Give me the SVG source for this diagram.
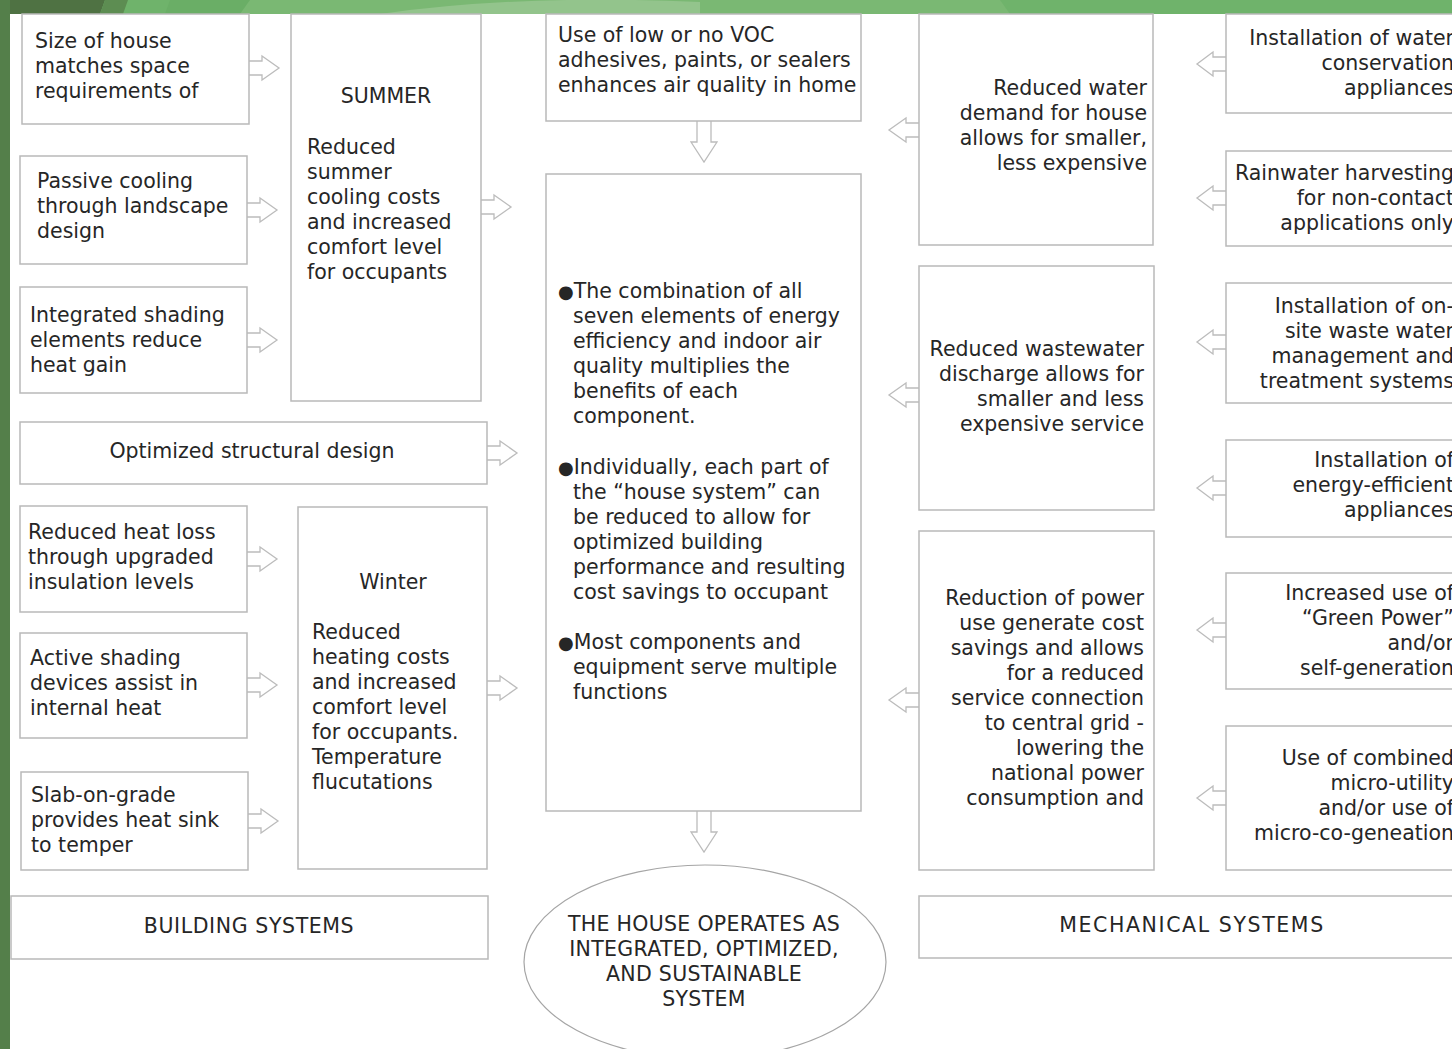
<svg xmlns="http://www.w3.org/2000/svg" width="1452" height="1049" viewBox="0 0 1452 1049">
<style>
.box{fill:#fff;stroke:#b9b9b9;stroke-width:1.5}
.arr{fill:#fff;stroke:#bcbcbc;stroke-width:1.3}
text{font-family:"DejaVu Sans",Verdana,sans-serif;font-size:20.5px;fill:#262626}
.c{text-anchor:middle}
.r{text-anchor:end}
.b{font-size:18px}
</style>
<rect width="1452" height="1049" fill="#fff"/>
<g id="background">
<rect x="0" y="0" width="1452" height="14" fill="#6fb36b"/>
<polygon points="0,0 105,0 100,14 0,14" fill="#4f7243"/>
<polygon points="105,0 128,0 123,14 100,14" fill="#5d8d52"/>
<polygon points="170,0 260,0 255,14 165,14" fill="#6aae66"/>
<polygon points="250,0 1000,0 1010,14 240,14" fill="#7ab873"/>
<path d="M380,14 Q520,-6 700,2 L700,14 Z" fill="#93c48c"/>
<rect x="0" y="0" width="10" height="1049" fill="#547f4a"/>
</g>
<g id="connectors">
<path class="arr" d="M249,61 H262 V56 L279,68 L262,80 V75 H249"/>
<path class="arr" d="M247,203 H260 V198 L277,210 L260,222 V217 H247"/>
<path class="arr" d="M247,333 H260 V328 L277,340 L260,352 V347 H247"/>
<path class="arr" d="M481,200 H494 V195 L511,207 L494,219 V214 H481"/>
<path class="arr" d="M487,446 H500 V441 L517,453 L500,465 V460 H487"/>
<path class="arr" d="M247,552 H260 V547 L277,559 L260,571 V566 H247"/>
<path class="arr" d="M247,678 H260 V673 L277,685 L260,697 V692 H247"/>
<path class="arr" d="M248,814 H261 V809 L278,821 L261,833 V828 H248"/>
<path class="arr" d="M487,681 H500 V676 L517,688 L500,700 V695 H487"/>
<path class="arr" d="M697,121 V142 H691 L704,162 L717,142 H711 V121"/>
<path class="arr" d="M697,811 V832 H691 L704,852 L717,832 H711 V811"/>
<path class="arr" d="M919,123 H906 V118 L889,130 L906,142 V137 H919"/>
<path class="arr" d="M919,388 H906 V383 L889,395 L906,407 V402 H919"/>
<path class="arr" d="M919,693 H906 V688 L889,700 L906,712 V707 H919"/>
<path class="arr" d="M1226,57 H1213 V52 L1197,64 L1213,76 V71 H1226"/>
<path class="arr" d="M1226,191 H1213 V186 L1197,198 L1213,210 V205 H1226"/>
<path class="arr" d="M1226,335 H1213 V330 L1197,342 L1213,354 V349 H1226"/>
<path class="arr" d="M1226,481 H1213 V476 L1197,488 L1213,500 V495 H1226"/>
<path class="arr" d="M1226,623 H1213 V618 L1197,630 L1213,642 V637 H1226"/>
<path class="arr" d="M1226,791 H1213 V786 L1197,798 L1213,810 V805 H1226"/>
</g>
<g id="n-size"><rect class="box" x="22" y="14" width="227" height="110"/>
<text x="35" y="48">Size of house</text><text x="35" y="73">matches space</text><text x="35" y="98">requirements of</text></g>
<g id="n-passive"><rect class="box" x="20" y="156" width="227" height="108"/>
<text x="37" y="188">Passive cooling</text><text x="37" y="213">through landscape</text><text x="37" y="238">design</text></g>
<g id="n-integrated"><rect class="box" x="20" y="287" width="227" height="106"/>
<text x="30" y="322">Integrated shading</text><text x="30" y="347">elements reduce</text><text x="30" y="372">heat gain</text></g>
<g id="n-summer"><rect class="box" x="291" y="14" width="190" height="387"/>
<text class="c" x="386" y="103">SUMMER</text>
<text x="307" y="154">Reduced</text><text x="307" y="179">summer</text><text x="307" y="204">cooling costs</text><text x="307" y="229">and increased</text><text x="307" y="254">comfort level</text><text x="307" y="279">for occupants</text></g>
<g id="n-structural"><rect class="box" x="20" y="422" width="467" height="62"/>
<text class="c" x="252" y="458">Optimized structural design</text></g>
<g id="n-heatloss"><rect class="box" x="20" y="506" width="227" height="106"/>
<text x="28" y="539">Reduced heat loss</text><text x="28" y="564">through upgraded</text><text x="28" y="589">insulation levels</text></g>
<g id="n-active"><rect class="box" x="20" y="633" width="227" height="105"/>
<text x="30" y="665">Active shading</text><text x="30" y="690">devices assist in</text><text x="30" y="715">internal heat</text></g>
<g id="n-slab"><rect class="box" x="21" y="772" width="227" height="98"/>
<text x="31" y="802">Slab-on-grade</text><text x="31" y="827">provides heat sink</text><text x="31" y="852">to temper</text></g>
<g id="n-winter"><rect class="box" x="298" y="507" width="189" height="362"/>
<text class="c" x="393" y="589">Winter</text>
<text x="312" y="639">Reduced</text><text x="312" y="664">heating costs</text><text x="312" y="689">and increased</text><text x="312" y="714">comfort level</text><text x="312" y="739">for occupants.</text><text x="312" y="764">Temperature</text><text x="312" y="789">flucutations</text></g>
<g id="n-building"><rect class="box" x="11" y="896" width="477" height="63"/>
<text class="c" x="249" y="933" letter-spacing="0.6">BUILDING SYSTEMS</text></g>
<g id="n-voc"><rect class="box" x="546" y="14" width="315" height="107"/>
<text x="558" y="42">Use of low or no VOC</text><text x="558" y="67">adhesives, paints, or sealers</text><text x="558" y="92">enhances air quality in home</text></g>
<g id="n-center"><rect class="box" x="546" y="174" width="315" height="637"/>
<text x="558" y="298"><tspan class="b">●</tspan>The combination of all</text><text x="573" y="323">seven elements of energy</text><text x="573" y="348">efficiency and indoor air</text><text x="573" y="373">quality multiplies the</text><text x="573" y="398">benefits of each</text><text x="573" y="423">component.</text>
<text x="558" y="474"><tspan class="b">●</tspan>Individually, each part of</text><text x="573" y="499">the “house system” can</text><text x="573" y="524">be reduced to allow for</text><text x="573" y="549">optimized building</text><text x="573" y="574">performance and resulting</text><text x="573" y="599">cost savings to occupant</text>
<text x="558" y="649"><tspan class="b">●</tspan>Most components and</text><text x="573" y="674">equipment serve multiple</text><text x="573" y="699">functions</text></g>
<g id="n-result"><ellipse cx="705" cy="962" rx="181" ry="97" fill="#fff" stroke="#a5a5a5" stroke-width="1.2"/>
<g letter-spacing="0.3"><text class="c" x="704" y="931">THE HOUSE OPERATES AS</text><text class="c" x="704" y="956">INTEGRATED, OPTIMIZED,</text><text class="c" x="704" y="981">AND SUSTAINABLE</text><text class="c" x="704" y="1006">SYSTEM</text></g></g>
<g id="n-water"><rect class="box" x="919" y="14" width="234" height="231"/>
<text class="r" x="1147" y="95">Reduced water</text><text class="r" x="1147" y="120">demand for house</text><text class="r" x="1147" y="145">allows for smaller,</text><text class="r" x="1147" y="170">less expensive</text></g>
<g id="n-wastewater"><rect class="box" x="919" y="266" width="235" height="244"/>
<text class="r" x="1144" y="356">Reduced wastewater</text><text class="r" x="1144" y="381">discharge allows for</text><text class="r" x="1144" y="406">smaller and less</text><text class="r" x="1144" y="431">expensive service</text></g>
<g id="n-power"><rect class="box" x="919" y="531" width="235" height="339"/>
<text class="r" x="1144" y="605">Reduction of power</text><text class="r" x="1144" y="630">use generate cost</text><text class="r" x="1144" y="655">savings and allows</text><text class="r" x="1144" y="680">for a reduced</text><text class="r" x="1144" y="705">service connection</text><text class="r" x="1144" y="730">to central grid -</text><text class="r" x="1144" y="755">lowering the</text><text class="r" x="1144" y="780">national power</text><text class="r" x="1144" y="805">consumption and</text></g>
<g id="n-mechanical"><rect class="box" x="919" y="896" width="540" height="62"/>
<text class="c" x="1192" y="932" letter-spacing="1.6">MECHANICAL SYSTEMS</text></g>
<g id="n-waterapp"><rect class="box" x="1226" y="14" width="240" height="99"/>
<text class="r" x="1454" y="45">Installation of water</text><text class="r" x="1454" y="70">conservation</text><text class="r" x="1454" y="95">appliances</text></g>
<g id="n-rain"><rect class="box" x="1226" y="151" width="240" height="95"/>
<text class="r" x="1454" y="180">Rainwater harvesting</text><text class="r" x="1454" y="205">for non-contact</text><text class="r" x="1454" y="230">applications only</text></g>
<g id="n-onsite"><rect class="box" x="1226" y="283" width="240" height="120"/>
<text class="r" x="1454" y="313">Installation of on-</text><text class="r" x="1454" y="338">site waste water</text><text class="r" x="1454" y="363">management and</text><text class="r" x="1454" y="388">treatment systems</text></g>
<g id="n-energy"><rect class="box" x="1226" y="440" width="240" height="97"/>
<text class="r" x="1454" y="467">Installation of</text><text class="r" x="1454" y="492">energy-efficient</text><text class="r" x="1454" y="517">appliances</text></g>
<g id="n-green"><rect class="box" x="1226" y="573" width="240" height="116"/>
<text class="r" x="1454" y="600">Increased use of</text><text class="r" x="1454" y="625">“Green Power”</text><text class="r" x="1454" y="650">and/or</text><text class="r" x="1454" y="675">self-generation</text></g>
<g id="n-micro"><rect class="box" x="1226" y="726" width="240" height="144"/>
<text class="r" x="1454" y="765">Use of combined</text><text class="r" x="1454" y="790">micro-utility</text><text class="r" x="1454" y="815">and/or use of</text><text class="r" x="1454" y="840">micro-co-geneation</text></g>
</svg>
